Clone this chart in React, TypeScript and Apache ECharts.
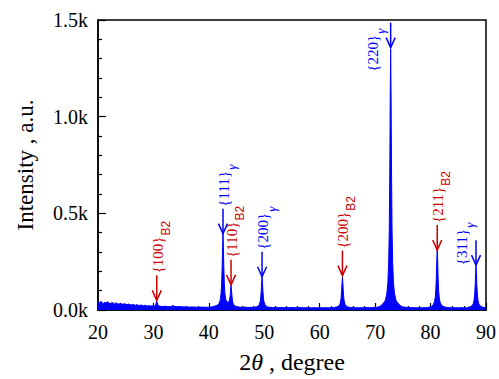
import React, { useEffect, useRef } from "react";
import * as echarts from "echarts";

const SERIF = "Times New Roman, Liberation Serif, serif";
const BLUE = "#0000ff";
const RED = "#cc0000";

const twoTheta = [
  20.0, 20.25, 20.5, 20.75, 21.0, 21.25, 21.5, 21.75, 22.0, 22.25, 22.5, 22.75, 23.0, 23.25, 23.5, 23.75, 24.0, 24.25, 24.5, 24.75,
  25.0, 25.25, 25.5, 25.75, 26.0, 26.25, 26.5, 26.75, 27.0, 27.25, 27.5, 27.75, 28.0, 28.25, 28.5, 28.75, 29.0, 29.25, 29.5, 29.75, 30.0,
  30.2, 30.35, 30.45, 30.52, 30.6, 30.68, 30.75, 30.85, 31.0,
  31.5, 32.0, 32.5, 33.0, 33.3, 33.5, 33.7, 34.0, 34.5, 35.0, 35.5, 36.0, 36.5, 37.0, 37.5, 38.0, 38.5, 39.0, 39.5, 40.0, 40.5,
  40.95, 41.55, 41.85, 42.05, 42.2, 42.3, 42.4, 42.47, 42.55, 42.63, 42.7, 42.8, 42.9, 43.05, 43.25, 43.45, 43.6, 43.75, 43.85, 43.92, 44.0, 44.08, 44.15, 44.25, 44.35, 44.5, 44.7, 45.0,
  45.5, 46.0, 46.5, 47.0, 47.5, 48.0,
  48.6, 48.9, 49.1, 49.25, 49.35, 49.45, 49.52, 49.6, 49.68, 49.75, 49.85, 49.95, 50.1, 50.3, 50.6,
  51.0, 51.5, 52.0, 52.5, 53.0, 53.5, 54.0, 54.5, 55.0, 55.5, 56.0, 56.5, 57.0, 57.5, 58.0, 58.5, 59.0, 59.5, 60.0, 60.5, 61.0, 61.5, 62.0, 62.5,
  63.1, 63.4, 63.6, 63.75, 63.85, 63.95, 64.02, 64.1, 64.18, 64.25, 64.35, 64.45, 64.6, 64.8, 65.1,
  65.5, 66.0, 66.5, 67.0, 67.5, 68.0, 68.5, 69.0, 69.5, 70.0, 70.5, 70.8,
  71.2, 71.8, 72.1, 72.3, 72.45, 72.55, 72.65, 72.72, 72.8, 72.88, 72.95, 73.05, 73.15, 73.3, 73.5, 73.8, 74.4,
  74.8, 75.2, 75.5, 76.0, 76.5, 77.0, 77.5, 78.0, 78.5, 79.0, 79.5, 79.8,
  80.2, 80.5, 80.7, 80.85, 80.95, 81.05, 81.12, 81.2, 81.28, 81.35, 81.45, 81.55, 81.7, 81.9, 82.2,
  82.6, 83.0, 83.5, 84.0, 84.5, 85.0, 85.5, 86.0, 86.5, 86.8,
  87.2, 87.5, 87.7, 87.85, 87.95, 88.05, 88.12, 88.2, 88.28, 88.35, 88.45, 88.55, 88.7, 88.9, 89.2, 89.6, 90.0,
];
const intensity = [
  42, 36, 45, 38, 34, 40, 37, 43, 35, 33, 39, 36, 31, 37, 34, 30, 35, 32, 29, 33,
  30, 27, 31, 28, 26, 29, 27, 24, 28, 25, 23, 26, 24, 22, 25, 22, 21, 23, 20, 22, 21,
  21, 24, 30, 40, 46, 39, 31, 25, 21,
  18, 19, 18, 17, 19, 25, 19, 17, 18, 17, 16, 16, 15, 16, 15, 14, 15, 15, 14, 14, 16,
  19, 25, 35, 52, 84, 130, 223, 323, 395, 323, 223, 130, 84, 55, 42, 40, 42, 55, 75, 100, 128, 104, 78, 50, 36, 27, 21, 18,
  15, 14, 15, 13, 14, 13,
  17, 21, 28, 42, 61, 99, 140, 170, 140, 99, 61, 42, 28, 21, 16,
  14, 13, 14, 12, 13, 12, 13, 12, 13, 12, 12, 13, 11, 12, 12, 11, 12, 11, 12, 11, 12, 11, 12, 13,
  16, 20, 27, 41, 60, 98, 139, 169, 139, 98, 60, 41, 27, 20, 16,
  13, 12, 12, 11, 12, 12, 13, 12, 13, 13, 15, 18,
  26, 47, 83, 143, 256, 417, 745, 1096, 1350, 1096, 745, 417, 256, 143, 83, 47, 26,
  18, 15, 14, 13, 12, 12, 11, 12, 11, 12, 13, 15,
  20, 28, 42, 67, 104, 177, 257, 314, 257, 177, 104, 67, 42, 28, 20,
  15, 13, 12, 11, 12, 11, 12, 11, 12, 14,
  17, 23, 32, 51, 77, 130, 188, 230, 188, 130, 77, 51, 32, 23, 17, 13, 12,
];

// Peak annotations
const annMain = ["{100}", "{111}", "{110}", "{200}", "{200}", "{220}", "{211}", "{311}"];
const annSub = ["B2", "γ", "B2", "γ", "B2", "γ", "B2", "γ"];
const annX = [30.6, 42.55, 44.0, 49.6, 64.1, 72.8, 81.2, 88.2];
const annTip = [50, 395, 130, 172, 178, 1357, 310, 232];
const annSide = ["top", "top", "top", "top", "top", "left", "top", "left"];

// label placement for side labels (pixels)
const sideOffset: Record<number, [number, number]> = { 5: [-18, 24], 7: [-14.5, 0] };

const yTickFmt = (v: number) => (v / 1000).toFixed(1) + "k";

const MAIN_FONT = "15px Times New Roman, Liberation Serif, serif";
const B2_FONT = "12px Arial, Liberation Sans, sans-serif";
const GAMMA_FONT = "italic 13px Times New Roman, Liberation Serif, serif";

let measureCtx: CanvasRenderingContext2D | null = null;
function measure(text: string, font: string): number {
  if (!measureCtx) measureCtx = document.createElement("canvas").getContext("2d");
  if (!measureCtx) return text.length * 7;
  measureCtx.font = font;
  return measureCtx.measureText(text).width;
}

export default function App() {
  const ref = useRef<HTMLDivElement>(null);
  useEffect(() => {
    if (!ref.current) return;
    const chart = echarts.init(ref.current, null, { renderer: "svg" });
    const ARROW = 25;
    chart.setOption({
      animation: false,
      textStyle: { fontFamily: SERIF },
      grid: { left: 98, right: 8, top: 20, bottom: 66, show: true, borderColor: "#000", borderWidth: 1.5, backgroundColor: "transparent" },
      xAxis: {
        type: "value",
        min: 20,
        max: 90,
        interval: 10,
        axisLine: { show: true, lineStyle: { color: "#000", width: 1.5 } },
        axisTick: { show: true, inside: true, length: 7, lineStyle: { color: "#000", width: 1.2 } },
        minorTick: { show: true, splitNumber: 5, length: 4, lineStyle: { color: "#000", width: 1.2 } },
        splitLine: { show: false },
        axisLabel: { color: "#000", fontSize: 20, fontFamily: SERIF, margin: 12 },
        name: "2{it|θ} , degree",
        nameLocation: "middle",
        nameGap: 40,
        nameTextStyle: {
          color: "#000",
          fontSize: 24,
          fontFamily: SERIF,
          rich: { it: { fontStyle: "italic", fontSize: 24, fontFamily: SERIF, color: "#000" } },
        },
      },
      yAxis: {
        type: "value",
        min: 0,
        max: 1500,
        interval: 500,
        axisLine: { show: true, lineStyle: { color: "#000", width: 1.5 } },
        axisTick: { show: true, inside: true, length: 8, lineStyle: { color: "#000", width: 1.2 } },
        minorTick: { show: true, splitNumber: 5, length: 4, lineStyle: { color: "#000", width: 1.2 } },
        splitLine: { show: false },
        axisLabel: { color: "#000", fontSize: 20, fontFamily: SERIF, margin: 10, formatter: yTickFmt },
        name: "Intensity , a.u.",
        nameLocation: "middle",
        nameGap: 61,
        nameTextStyle: { color: "#000", fontSize: 23, fontFamily: SERIF },
      },
      series: [
        {
          type: "line",
          data: twoTheta.map((x, i) => [x, intensity[i]]),
          symbol: "none",
          lineStyle: { color: BLUE, width: 1 },
          areaStyle: { color: BLUE, opacity: 1 },
          silent: true,
          z: 2,
        },
        {
          type: "custom",
          coordinateSystem: "cartesian2d",
          silent: true,
          clip: false,
          z: 5,
          data: annX.map((x, i) => [x, annTip[i]]),
          renderItem: (params: any, api: any) => {
            const i = params.dataIndex;
            const p = api.coord([annX[i], annTip[i]]);
            const col = annSub[i] === "B2" ? RED : BLUE;
            const px = p[0];
            const py = p[1];
            const tail = py - ARROW;
            const mainW = measure(annMain[i], MAIN_FONT);
            let gx: number, gy: number;
            if (annSide[i] === "top") {
              gx = px + 1;
              gy = tail - 2;
            } else {
              const o = sideOffset[i] || [0, 0];
              gx = px + o[0];
              gy = py + o[1];
            }
            const isGamma = annSub[i] === "γ";
            return {
              type: "group",
              children: [
                { type: "line", shape: { x1: px, y1: tail, x2: px, y2: py }, style: { stroke: col, lineWidth: 1.5 } },
                {
                  type: "polyline",
                  shape: { points: [[px - 4.5, py - 10], [px, py], [px + 4.5, py - 10]] },
                  style: { stroke: col, lineWidth: 1.5, fill: "none" },
                },
                {
                  type: "group",
                  x: gx,
                  y: gy,
                  rotation: Math.PI / 2,
                  children: [
                    {
                      type: "text",
                      x: 0,
                      y: 0,
                      style: { text: annMain[i], fill: col, font: MAIN_FONT, align: "left", verticalAlign: "middle" },
                    },
                    {
                      type: "text",
                      x: mainW + 1,
                      y: 8,
                      style: {
                        text: annSub[i],
                        fill: col,
                        font: isGamma ? GAMMA_FONT : B2_FONT,
                        align: "left",
                        verticalAlign: "middle",
                      },
                    },
                  ],
                },
              ],
            };
          },
        },
      ],
    });
    return () => chart.dispose();
  }, []);
  return <div ref={ref} style={{ width: 499, height: 379, position: "absolute", left: 0, top: 0 }} />;
}
